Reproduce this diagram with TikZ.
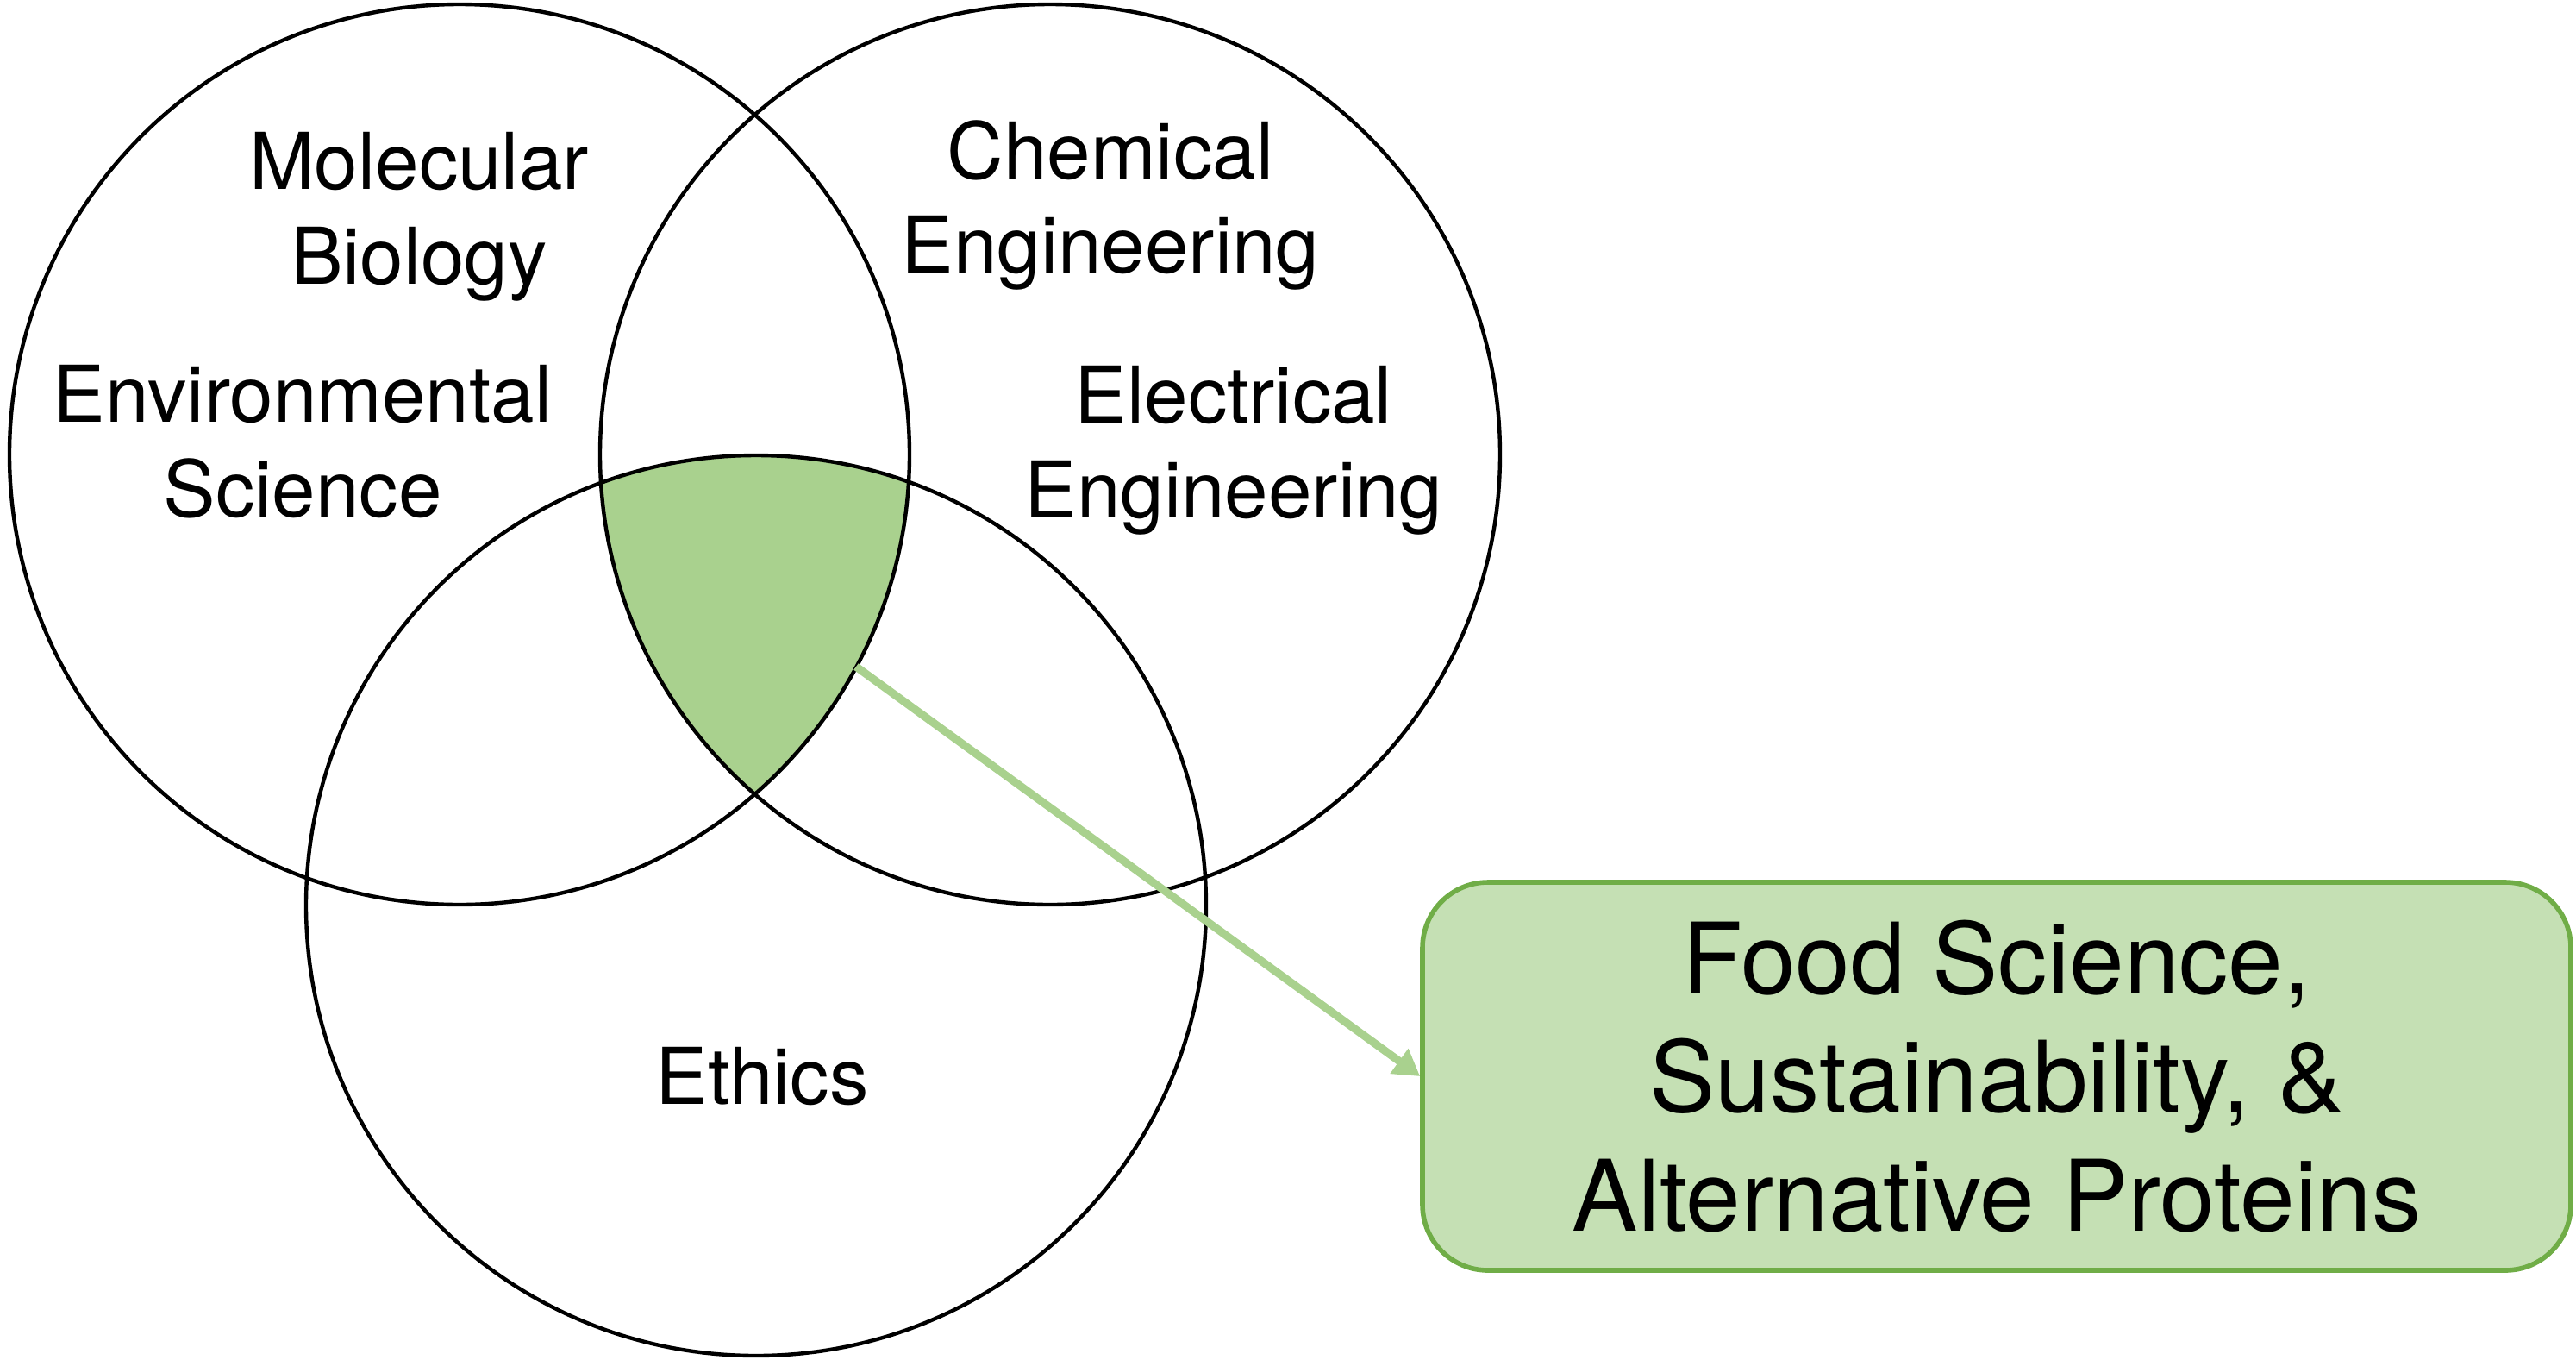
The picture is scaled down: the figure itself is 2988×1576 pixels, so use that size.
\documentclass[tikz,border=0pt]{standalone}
\usepackage{fontspec}
\setmainfont{TeX Gyre Heros}
\usetikzlibrary{arrows.meta}
\definecolor{regiongreen}{HTML}{A9D18E}
\definecolor{boxfill}{HTML}{C5E0B4}
\definecolor{boxline}{HTML}{70AD47}
\definecolor{arrowgreen}{HTML}{A9D18E}
\tikzset{
  venn/.style={draw=black, line width=1.1pt},
  lbl/.style={inner sep=0pt, align=center, font=\fontsize{22.7}{27.4}\selectfont},
  resultbox/.style={draw=boxline, fill=boxfill, line width=1.4pt, rounded corners=19pt,
     minimum width=333pt, minimum height=112.5pt, inner sep=0pt, align=center,
     font=\fontsize{28.6}{34.3}\selectfont},
  link/.style={draw=arrowgreen, line width=2.3pt, -{Triangle[length=7.5pt,width=8.5pt]}}
}
\begin{document}
\begin{tikzpicture}[x=0.25pt,y=-0.25pt]
\useasboundingbox (0,0) rectangle (2988,1576);
\coordinate (cL) at (533,527);
\coordinate (cR) at (1218,527);
\coordinate (cB) at (877,1050);
% central intersection
\begin{scope}
  \clip (cL) circle[radius=522];
  \clip (cR) circle[radius=522];
  \fill[regiongreen] (cB) circle[radius=522];
\end{scope}
\draw[venn] (cL) circle[radius=522];
\draw[venn] (cR) circle[radius=522];
\draw[venn] (cB) circle[radius=522];
% labels
\node[lbl] (molbio) at (486,251) {Molecular\\Biology};
\node[lbl] (chemeng) at (1288,238) {Chemical\\Engineering};
\node[lbl] (envsci) at (351,512) {Environmental\\Science};
\node[lbl] (eleceng) at (1431,522) {Electrical\\Engineering};
\node[lbl] (ethics) at (884,1248) {Ethics};
% result box
\node[resultbox] (result) at (2316,1248) {Food Science,\\Sustainability, \&\\Alternative Proteins};
\coordinate (start) at (993,773);
\draw[link] (start) -- (result.west);
\end{tikzpicture}
\end{document}
